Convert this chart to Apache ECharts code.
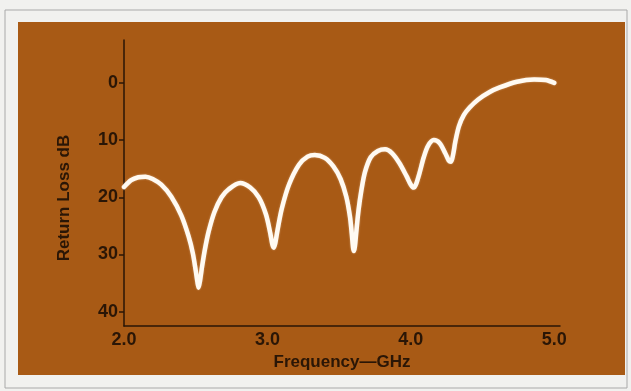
<!DOCTYPE html>
<html>
<head>
<meta charset="utf-8">
<script src="https://cdn.jsdelivr.net/npm/echarts@6/dist/echarts.min.js"></script>
<style>
    html, body { margin: 0; padding: 0; background: #f1f1ef; }
    #chart { width: 631px; height: 391px; }
</style>
</head>
<body>
<div id="chart"></div>
<script>
// return loss curve (GHz, dB)
const freq = [2.00, 2.05, 2.10, 2.15, 2.20, 2.26, 2.33, 2.40, 2.45, 2.48, 2.50, 2.512, 2.52,
    2.53, 2.545, 2.565, 2.59, 2.63, 2.68, 2.73, 2.81, 2.88, 2.94, 2.99, 3.02, 3.035, 3.045, 3.055,
    3.07, 3.10, 3.15, 3.22, 3.28, 3.33, 3.40, 3.46, 3.51, 3.55, 3.575, 3.588, 3.597, 3.603, 3.61,
    3.62, 3.635, 3.655, 3.68, 3.72, 3.77, 3.82, 3.87, 3.92, 3.97, 4.00, 4.02, 4.035, 4.06, 4.09,
    4.12, 4.16, 4.20, 4.24, 4.265, 4.28, 4.295, 4.31, 4.335, 4.37, 4.41, 4.47, 4.55, 4.62, 4.74,
    4.86, 4.94, 5.00]
const loss = [18.2, 17.0, 16.5, 16.4, 16.8, 17.8, 19.9, 23.2, 26.8, 29.8, 32.8, 34.8, 35.8,
    34.6, 32.0, 29.0, 26.0, 22.6, 20.0, 18.6, 17.5, 18.3, 20.0, 23.0, 26.3, 28.3, 28.8, 28.0,
    25.8, 22.0, 17.8, 14.3, 12.9, 12.6, 13.1, 14.6, 16.8, 19.9, 23.3, 26.3, 28.8, 29.4, 28.6,
    26.0, 22.3, 18.8, 15.6, 13.0, 11.9, 11.6, 12.3, 14.0, 16.3, 17.8, 18.3, 17.8, 15.8, 13.0,
    11.0, 10.0, 10.5, 12.3, 13.6, 13.8, 12.5, 10.3, 7.6, 5.6, 4.3, 2.9, 1.6, 0.8, -0.2,
    -0.6, -0.5, 0.0]
const xTicks = [2, 3, 4, 5]
const yTicks = [0, 10, 20, 30, 40]

const ink = '#2a1606'
const font = 'Liberation Sans'

let chart = echarts.init(document.getElementById('chart'))
chart.setOption({
    backgroundColor: '#f1f1ef',
    animation: false,
    graphic: [
        {
            type: 'rect',
            shape: { x: 5, y: 10, width: 622, height: 378 },
            style: { fill: 'none', stroke: '#a9a9a9', lineWidth: 1 },
            z: -2
        },
        {
            type: 'rect',
            shape: { x: 18, y: 22, width: 607, height: 353 },
            style: { fill: '#a85a15' },
            z: -1
        },
        {
            type: 'text',
            x: 64,
            y: 198,
            rotation: Math.PI / 2,
            style: {
                text: 'Return Loss dB',
                fill: ink,
                font: 'bold 17px "Liberation Sans"',
                align: 'center',
                verticalAlign: 'middle'
            }
        }
    ],
    grid: {
        left: 124,
        top: 40,
        right: 71,
        bottom: 65
    },
    xAxis: {
        type: 'value',
        min: 2,
        max: 5.04,
        name: 'Frequency\u2014GHz',
        nameLocation: 'middle',
        nameGap: 27,
        nameTextStyle: { color: ink, fontFamily: font, fontWeight: 'bold', fontSize: 17 },
        axisLine: { onZero: false, lineStyle: { color: ink, width: 1.5 } },
        axisTick: { show: false },
        splitLine: { show: false },
        axisLabel: {
            customValues: xTicks,
            color: ink,
            fontFamily: font,
            fontWeight: 'bold',
            fontSize: 18,
            margin: 5,
            formatter: function (v) { return v.toFixed(1) }
        }
    },
    yAxis: {
        type: 'value',
        inverse: true,
        min: -7.5,
        max: 42.5,
        axisLine: { show: true, onZero: false, lineStyle: { color: ink, width: 1.5 } },
        axisTick: { show: true, customValues: yTicks, length: 5, lineStyle: { color: ink, width: 1.5 } },
        splitLine: { show: false },
        axisLabel: {
            customValues: yTicks,
            color: ink,
            fontFamily: font,
            fontWeight: 'bold',
            fontSize: 18,
            margin: 6
        }
    },
    series: [
        {
            type: 'line',
            data: freq.map((f, i) => [f, loss[i]]),
            smooth: 0.3,
            showSymbol: false,
            lineStyle: {
                color: '#fffaf2',
                width: 4.5,
                cap: 'round',
                join: 'round',
                shadowColor: 'rgba(255,240,220,0.5)',
                shadowBlur: 2
            }
        }
    ]
})
</script>
</body>
</html>
